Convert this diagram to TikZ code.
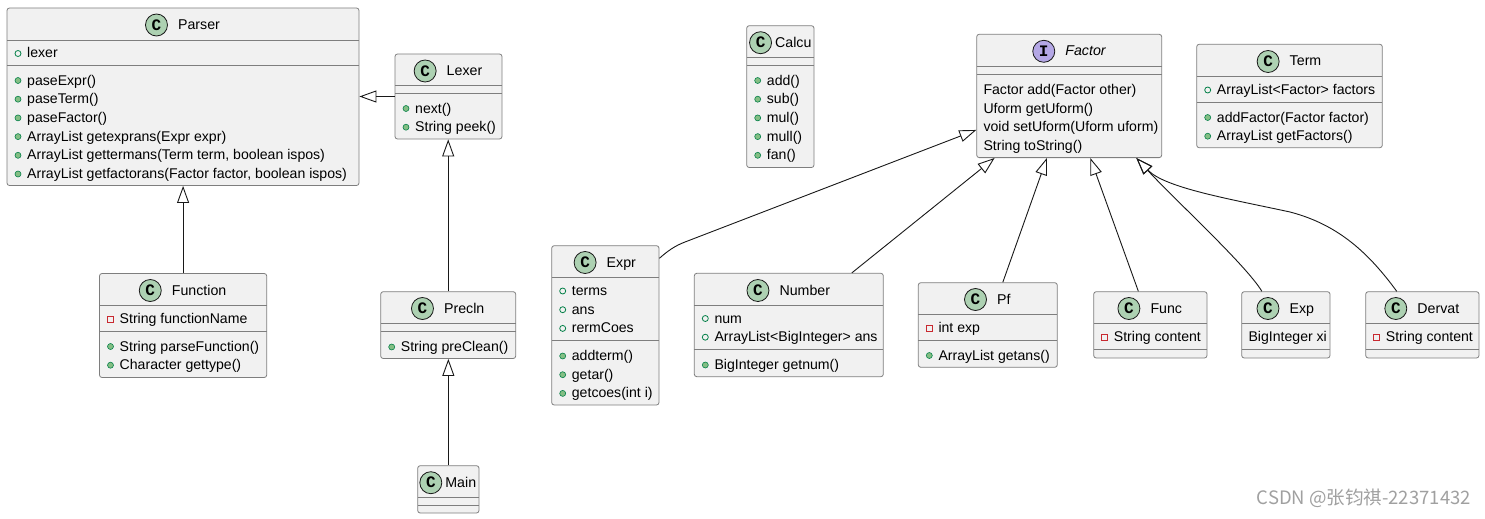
\documentclass[tikz,border=0pt]{standalone}
\usepackage{fontspec}
\usepackage{tikz}
\usepackage{xcolor}
\usetikzlibrary{arrows.meta, positioning}

\setmainfont{Liberation Sans}
\newfontfamily\cjk{Noto Sans CJK SC}
\newfontfamily\badgefont{Liberation Mono}

\definecolor{boxfill}{HTML}{F1F1F1}
\definecolor{boxline}{HTML}{7E7E7E}
\definecolor{linecol}{HTML}{181818}
\definecolor{cbadge}{HTML}{ADD1B2}
\definecolor{ibadge}{HTML}{B4A7E5}
\definecolor{pmfill}{HTML}{84BE84}
\definecolor{pmline}{HTML}{038048}
\definecolor{vfline}{HTML}{C82930}
\definecolor{wmark}{HTML}{A0A0A0}

% member icons and text offsets
\newcommand\offpm{20}
\newcommand\offpf{20}
\newcommand\offvf{20}
\newcommand\offnn{6.6}
\newcommand\iconpm[2]{\filldraw[fill=pmfill, draw=pmline, line width=0.6pt] ({#1},{#2}) circle (3pt);}
\newcommand\iconpf[2]{\draw[pmline, line width=0.8pt] ({#1},{#2}) circle (3pt);}
\newcommand\iconvf[2]{\draw[vfline, line width=0.8pt] ({#1-3},{#2-3}) rectangle ({#1+3},{#2+3});}
\newcommand\iconnn[2]{}

% one compartment of members
\newcommand\members[4]{%
  \foreach \ic/\txt [count=\i] in {#4} {
    \pgfmathsetmacro\yy{#3+(\i-1)*18.7}
    \pgfmathsetmacro\xx{#2+\csname off\ic\endcsname}
    \csname icon\ic\endcsname{#2+11}{\yy-4.5}
    \node[member] (#1\i) at (\xx,\yy) {\txt};
  }}

\begin{document}
\begin{tikzpicture}[x=1pt, y=-1pt,
    classbox/.style={draw=boxline, fill=boxfill, line width=0.8pt, rounded corners=2.5pt, inner sep=0},
    sepline/.style={draw=boxline, line width=0.8pt},
    ctitle/.style={anchor=base, inner sep=0, text height=11pt, text depth=2pt, font=\fontsize{14.2}{17}\selectfont},
    badge/.style={circle, draw=linecol, line width=0.8pt, fill=cbadge, minimum size=22pt, inner sep=0, font=\badgefont\bfseries\fontsize{16}{16}\selectfont},
    member/.style={anchor=base west, inner sep=0, font=\fontsize{14.1}{17}\selectfont},
    generalize/.style={draw=linecol, line width=0.9pt, -{Triangle[open, length=17pt, width=12pt]}},
    wmark/.style={inner sep=0, text=wmark, font=\cjk\fontsize{18.5}{20}\selectfont}]
\useasboundingbox (0,0) rectangle (1485,519);

% Class boxes with their two separators
\foreach \n/\l/\t/\r/\b/\ya/\yb in {
    parser/7/8/359/185.5/40/65, lexer/395/54/502/139/85.5/93,
    function/99.5/273.5/266.7/377.5/305.5/331, precln/380.7/291.7/515.7/358.5/323.5/331.5,
    main/417.7/465.7/479/513/497/505.5, calcu/746.7/25.7/814/167.5/57/65,
    factor/976.7/34.3/1161.7/157.6/66.5/74.5, term/1196.7/44.3/1382.3/147.7/76.5/102,
    expr/551.7/245.7/659/405/277.5/340.5, number/694.3/273.3/883.3/376.7/305/349.5,
    pf/918.3/282.7/1057.3/367.3/314.5/340, func/1093.7/291.7/1207/358/323.5/349.5,
    exp/1241.7/291.7/1330/358/323.5/349.5, dervat/1365.7/291.7/1479/358/323.5/349.5} {
    \pgfmathsetmacro\w{\r-\l}
    \pgfmathsetmacro\h{\b-\t}
    \node[classbox, minimum width=\w pt, minimum height=\h pt] (\n) at ({(\l+\r)/2},{(\t+\b)/2}) {};
    \draw[sepline] (\l,\ya) -- (\r,\ya) (\l,\yb) -- (\r,\yb);
}

% Titles with the class badge
\foreach \n/\txt/\cx/\bl in {parser/Parser/183/29.5, lexer/Lexer/448.5/75.5,
    function/Function/183.1/295, precln/Precln/448.2/313, term/Term/1289.5/66,
    expr/Expr/605.3/267, number/Number/788.8/295, pf/Pf/987.8/304,
    func/Func/1150.3/313, exp/Exp/1285.8/313, dervat/Dervat/1422.3/313} {
    \node[ctitle] (\n-t) at (\cx+16,\bl) {\txt};
    \node[badge, left=10pt of \n-t] (\n-c) {C};
}
\node[ctitle] (calcu-t) at (793.3,47.2) {Calcu};
\node[badge, left=3pt of calcu-t] (calcu-c) {C};
\node[ctitle] (main-t) at (460.8,487.2) {Main};
\node[badge, left=3pt of main-t] (main-c) {C};
\node[ctitle, font=\itshape\fontsize{14.2}{17}\selectfont] (factor-t) at (1085.5,55.8) {Factor};
\node[badge, fill=ibadge, left=10pt of factor-t] (factor-c) {I};

% Members
\members{parser-a}{7}{58}{pf/lexer}
\members{parser-m}{7}{85}{pm/paseExpr(), pm/paseTerm(), pm/paseFactor(),
    pm/ArrayList getexprans(Expr expr), {pm/ArrayList gettermans(Term term, boolean ispos)},
    {pm/ArrayList getfactorans(Factor factor, boolean ispos)}}
\members{lexer-m}{395}{113}{pm/next(), pm/String peek()}
\members{function-a}{99.5}{323.5}{vf/String functionName}
\members{function-m}{99.5}{351}{pm/String parseFunction(), pm/Character gettype()}
\members{precln-m}{380.7}{351.5}{pm/String preClean()}
\members{calcu-m}{746.7}{85}{pm/add(), pm/sub(), pm/mul(), pm/mull(), pm/fan()}
\members{factor-m}{976.7}{94.5}{nn/Factor add(Factor other), nn/Uform getUform(),
    nn/void setUform(Uform uform), nn/String toString()}
\members{term-a}{1196.7}{94.5}{pf/ArrayList<Factor> factors}
\members{term-m}{1196.7}{122}{pm/addFactor(Factor factor), pm/ArrayList getFactors()}
\members{expr-a}{551.7}{295.5}{pf/terms, pf/ans, pf/rermCoes}
\members{expr-m}{551.7}{360.5}{pm/addterm(), pm/getar(), pm/getcoes(int i)}
\members{number-a}{694.3}{323}{pf/num, pf/ArrayList<BigInteger> ans}
\members{number-m}{694.3}{369.5}{pm/BigInteger getnum()}
\members{pf-a}{918.3}{332.5}{vf/int exp}
\members{pf-m}{918.3}{360}{pm/ArrayList getans()}
\members{func-a}{1093.7}{341.5}{vf/String content}
\members{exp-a}{1241.7}{341.5}{nn/BigInteger xi}
\members{dervat-a}{1365.7}{341.5}{vf/String content}

% Inheritance on the left
\draw[generalize] (lexer.west) -- (lexer.west -| parser.east);
\draw[generalize] (function.north) -- (function.north |- parser.south);
\draw[generalize] (precln.north) -- (precln.north |- lexer.south);
\draw[generalize] (main.north) -- (main.north |- precln.south);

% Implementations of Factor
\draw[generalize] ([yshift=-13pt]expr.north east) .. controls (668,250.7) and (675,245.8) .. (685,242)
    -- ([yshift=-34pt]factor.west);
\draw[generalize] ([xshift=63pt]number.north) -- ([xshift=18.3pt]factor.south west);
\draw[generalize] ([xshift=15pt]pf.north) -- ([xshift=70.6pt]factor.south west);
\draw[generalize] ([xshift=-12pt]func.north) -- ([xshift=114pt]factor.south west);
\draw[generalize] ([xshift=-24pt]exp.north) .. controls (1246,265) and (1175,200)
    .. ([xshift=160pt]factor.south west);
\draw[generalize] ([xshift=-25.6pt]dervat.north) .. controls (1370,255) and (1340,225) .. (1290,212)
    .. controls (1230,199) and (1165,188) .. ([xshift=160pt]factor.south west);

\node[wmark, anchor=east] (watermark) at (1471,498) {CSDN @张钧祺-22371432};
\end{tikzpicture}
\end{document}
